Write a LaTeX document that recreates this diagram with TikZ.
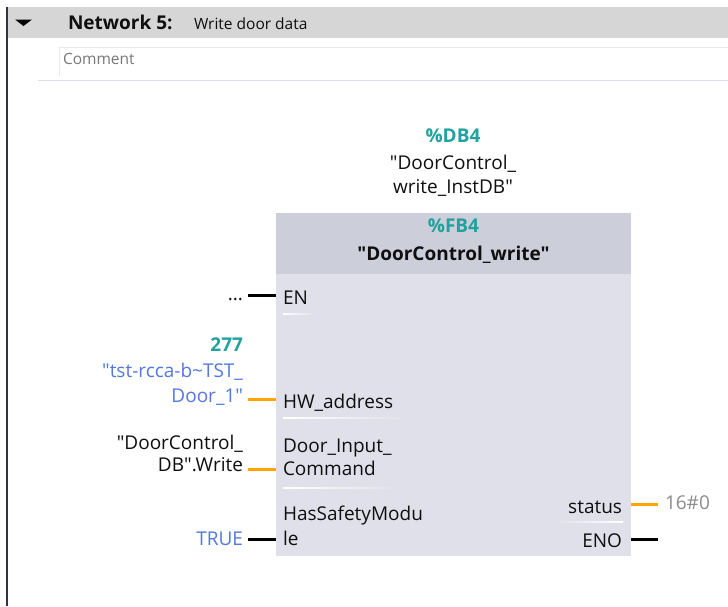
\documentclass[tikz,border=0pt]{standalone}
\usepackage{fontspec}
\setmainfont{Open Sans}[Ligatures=TeXOff]
\newcommand\dq{\symbol{34}}
\definecolor{teal}{RGB}{32,163,158}
\definecolor{pinblue}{RGB}{84,120,222}
\definecolor{pinorange}{RGB}{255,165,0}
\definecolor{blkhead}{RGB}{204,206,218}
\definecolor{blkbody}{RGB}{223,224,233}
\definecolor{hdrgray}{RGB}{214,214,214}
\definecolor{leftline}{RGB}{50,50,70}
\definecolor{lavender}{RGB}{224,220,240}
\definecolor{cborder}{RGB}{234,234,234}
\definecolor{txtblack}{RGB}{15,15,15}
\definecolor{constgray}{RGB}{140,140,140}
\definecolor{commentgray}{RGB}{120,120,120}
\begin{document}
\begin{tikzpicture}[x=1pt,y=-1pt,
  every node/.style={inner sep=0pt, outer sep=0pt},
  lbl/.style={font=\fontsize{19}{22}\selectfont, text=txtblack},
  boldlbl/.style={font=\bfseries\fontsize{19}{22}\selectfont, text=txtblack},
  tlbl/.style={font=\bfseries\fontsize{19}{22}\selectfont, text=teal},
  blbl/.style={font=\fontsize{19}{22}\selectfont, text=pinblue},
  wireblack/.style={draw=black, line width=3pt},
  wireorange/.style={draw=pinorange, line width=3pt}
]
\useasboundingbox (0,0) rectangle (728,606);
\fill[white] (0,0) rectangle (728,606);
% network header
\fill[hdrgray] (8,7) rectangle (728,38);
\fill[black] (15,19.5) -- (32,19.5) -- (23.5,26) -- cycle;
\node[anchor=base west, font=\bfseries\fontsize{19}{22}\selectfont, text=txtblack] (net) at (68,29) {Network 5:};
\node[anchor=base west, font=\fontsize{15.5}{18}\selectfont, text=txtblack] (title) at (194,29) {Write door data};
% comment box
\draw[cborder, line width=1pt] (59.5,76) -- (59.5,47.5) -- (728,47.5);
\node[anchor=base west, font=\fontsize{15.5}{18}\selectfont, text=commentgray] (comment) at (63,64) {Comment};
\draw[lavender, line width=1.5pt] (38,80.5) -- (728,80.5);
% left rail
\draw[leftline, line width=2pt] (7,7) -- (7,606);
% instance DB
\node[tlbl, anchor=base] (db) at (453,142) {\%DB4};
\node[lbl, anchor=base] (dbn1) at (453,169) {\dq DoorControl\_};
\node[lbl, anchor=base] (dbn2) at (453,193) {write\_InstDB\dq};
% block
\node[fill=blkbody, minimum width=355pt, minimum height=343pt, anchor=north west] (blk) at (276,213) {};
\fill[blkhead] (blk.north west) rectangle ([yshift=-61pt]blk.north east);
\node[tlbl, anchor=base] (fb) at (453.5,232) {\%FB4};
\node[boldlbl, anchor=base] (fbn) at (453.5,260) {\dq DoorControl\_write\dq};
% input pins
\node[lbl, anchor=base west] (en) at (283,304) {EN};
\node[lbl, anchor=base west] (hw) at (283,408) {HW\_address};
\node[lbl, anchor=base west] (di1) at (283,452) {Door\_Input\_};
\node[lbl, anchor=base west] (di2) at (283,475) {Command};
\node[lbl, anchor=base west] (hs1) at (283,520) {HasSafetyModu};
\node[lbl, anchor=base west] (hs2) at (283,545) {le};
% output pins
\node[lbl, anchor=base east] (st) at (622,513) {status};
\node[lbl, anchor=base east] (eno) at (622,547) {ENO};
% separators
\shade[left color=white, right color=blkbody] (283,313.3) rectangle (315,314.8);
\shade[left color=white, right color=blkbody] (283,417.3) rectangle (408,418.8);
\shade[left color=white, right color=blkbody] (283,487.3) rectangle (402,488.8);
\shade[left color=blkbody, right color=white] (553,521.3) rectangle (623,522.8);
% actual parameters
\node[lbl, anchor=base east] (dots) at (243,300) {...};
\node[tlbl, anchor=base east] (c277) at (243,351) {277};
\node[blbl, anchor=base east] (tag1) at (243,377) {\dq tst-rcca-b\textasciitilde TST\_};
\node[blbl, anchor=base east] (tag2) at (243,402) {Door\_1\dq};
\node[lbl, anchor=base east] (cmd1) at (243,449) {\dq DoorControl\_};
\node[lbl, anchor=base east] (cmd2) at (243,471) {DB\dq.Write};
\node[blbl, anchor=base east] (true) at (243,545) {TRUE};
\node[lbl, anchor=base west, text=constgray] (res) at (665,509) {16\#0};
% wires
\coordinate (en-a) at (248,295);   \coordinate (en-b) at (276,295);
\coordinate (hw-a) at (248,399);   \coordinate (hw-b) at (276,399);
\coordinate (di-a) at (248,469);   \coordinate (di-b) at (276,469);
\coordinate (hs-a) at (248,539.5); \coordinate (hs-b) at (276,539.5);
\coordinate (st-a) at (631,504);   \coordinate (st-b) at (658,504);
\coordinate (eno-a) at (631,539.5);\coordinate (eno-b) at (658,539.5);
\draw[wireblack] (en-a) -- (en-b);
\draw[wireorange] (hw-a) -- (hw-b);
\draw[wireorange] (di-a) -- (di-b);
\draw[wireblack] (hs-a) -- (hs-b);
\draw[wireorange] (st-a) -- (st-b);
\draw[wireblack] (eno-a) -- (eno-b);
\end{tikzpicture}
\end{document}
